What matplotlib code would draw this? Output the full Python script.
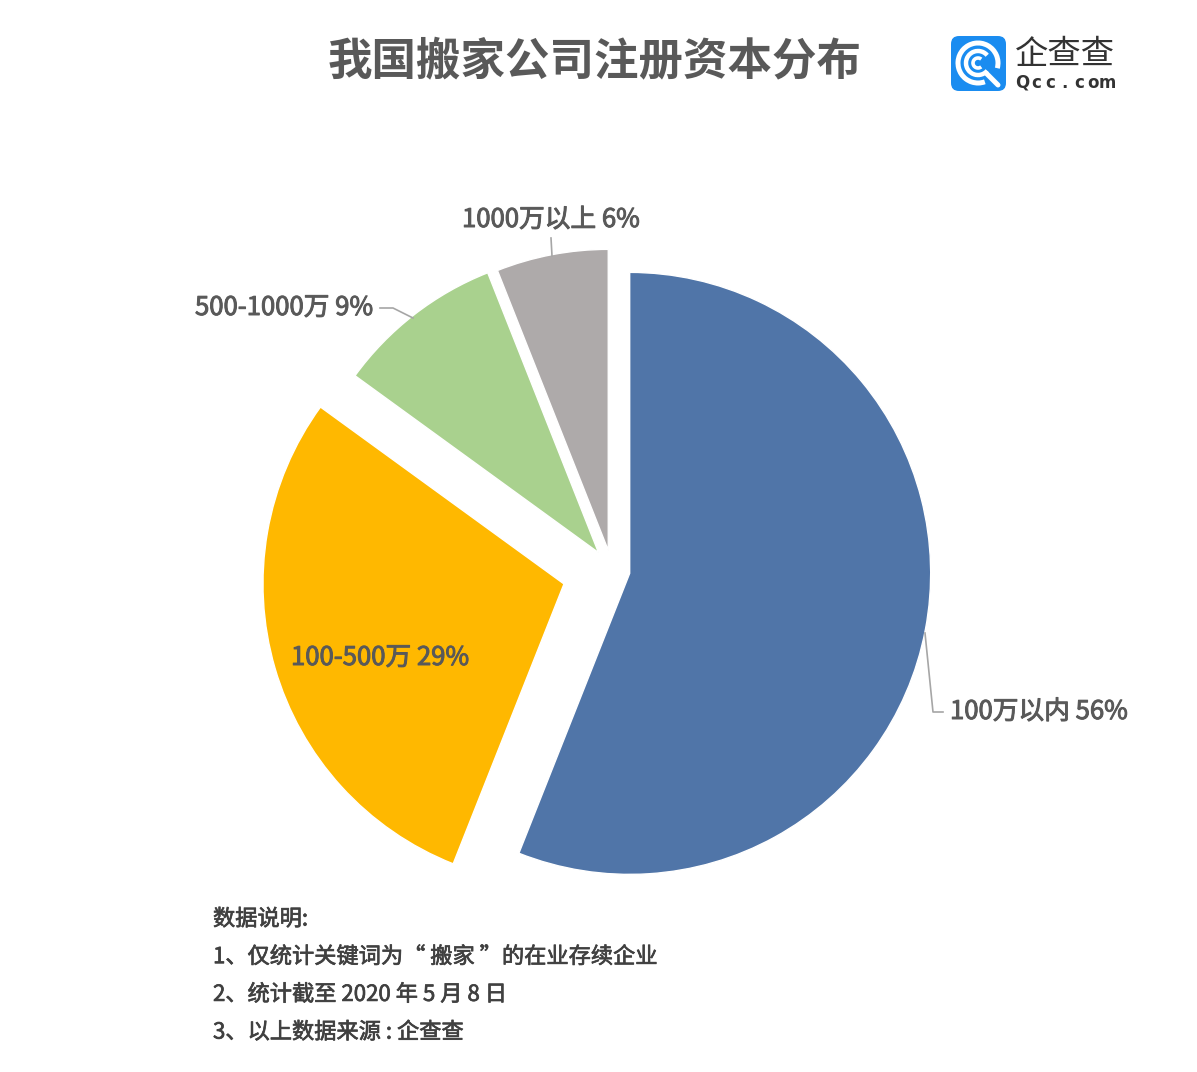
import matplotlib
matplotlib.use("Agg")
import matplotlib.pyplot as plt
import matplotlib.patheffects as pe
from matplotlib.patches import FancyBboxPatch, Arc
import numpy as np

plt.rcParams['font.family'] = ['Noto Sans CJK SC', 'DejaVu Sans']

# data
categories = ['100万以内', '100-500万', '500-1000万', '1000万以上']
values = [56, 29, 9, 6]
colors = ['#5075A8', '#FFB800', '#A9D18E', '#AEAAAA']
explode = [18, 50, 22, 20]   # pixels

title = '我国搬家公司注册资本分布'
notes = ['数据说明:',
         '1、仅统计关键词为“ 搬家 ”的在业存续企业',
         '2、统计截至 2020 年 5 月 8 日',
         '3、以上数据来源 : 企查查']

W, H = 1197, 1072
fig = plt.figure(figsize=(W / 100, H / 100), dpi=100)
ax = fig.add_axes([0, 0, 1, 1])

def Y(py):
    return H - py

ax.pie(values, colors=colors, explode=explode, startangle=90, counterclock=False,
       center=(612, Y(570)), radius=301,
       wedgeprops=dict(edgecolor='white', linewidth=1))
ax.set_xlim(0, W)
ax.set_ylim(0, H)
ax.set_aspect('auto')
ax.axis('off')

txt = '#595959'
line_c = '#A6A6A6'

# title
ax.text(595, Y(62), title, fontsize=32, fontweight='bold', color=txt,
        ha='center', va='center')

# slice labels (a thin stroke gives them the medium look)
lab = [f'{c} {v}%' for c, v in zip(categories, values)]
lkw = dict(fontsize=18.5, color=txt, va='center',
           path_effects=[pe.withStroke(linewidth=0.7, foreground=txt)])
ax.text(950, Y(712), lab[0], ha='left', **lkw)
ax.plot([925, 933, 943], [Y(633), Y(712), Y(712)], color=line_c, lw=1.2)

ax.text(380, Y(658), lab[1], ha='center', **lkw)

ax.text(373, Y(308), lab[2], ha='right', **lkw)
ax.plot([380, 393, 413], [Y(308), Y(308), Y(318)], color=line_c, lw=1.2)

ax.text(551, Y(220), lab[3], ha='center', **lkw)
ax.plot([551, 552], [Y(238), Y(256)], color=line_c, lw=1.2)

# notes
for i, n in enumerate(notes):
    ax.text(213, Y(919 + i * 37.7), n, fontsize=16, color='#404040',
            ha='left', va='center',
            path_effects=[pe.withStroke(linewidth=0.5, foreground='#404040')])

# logo
ax.add_patch(FancyBboxPatch((951, Y(91)), 55, 55,
                            boxstyle='round,pad=0,rounding_size=8',
                            facecolor='#1A8CF0', edgecolor='none'))
cx, cy = 978, Y(63)
ax.add_patch(Arc((cx, cy), 40, 40, theta1=-15, theta2=290, color='white', lw=3.6))
ax.add_patch(Arc((cx, cy), 24, 24, theta1=40, theta2=320, color='white', lw=3.2))
ax.add_patch(Arc((cx, cy), 10, 10, theta1=50, theta2=310, color='white', lw=2.6))
ax.plot([cx + 8, cx + 20], [cy - 10, cy - 22], color='white', lw=3.6,
        solid_capstyle='round')
ax.text(1065, Y(54), '企查查', fontsize=24, color='#333333', ha='center',
        va='center')
for i, ch in enumerate('Qcc.com'):
    ax.text(1022 + i * 14.3, Y(83), ch, fontsize=12, fontweight='bold',
            color='#333333', ha='center', va='center', family='DejaVu Sans')

fig.savefig('out.png', dpi=100)
